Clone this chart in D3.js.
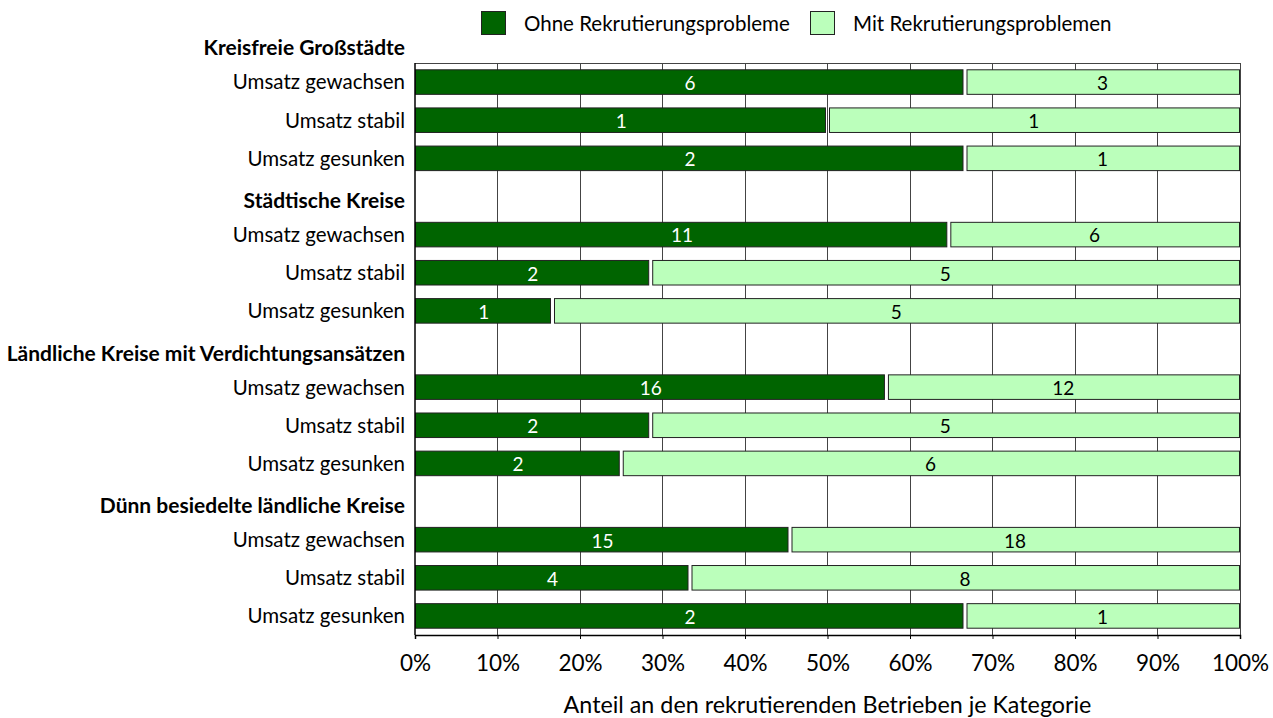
<!DOCTYPE html>
<html><head><meta charset="utf-8">
<script src="https://cdn.jsdelivr.net/npm/d3@7"></script>
<style>body{margin:0;background:#fff}svg{display:block;font-family:Lato,"Open Sans",sans-serif}</style>
</head><body><svg id="c" width="1273" height="718"></svg>
<script>
const groups = ["Kreisfreie Großstädte","Städtische Kreise","Ländliche Kreise mit Verdichtungsansätzen","Dünn besiedelte ländliche Kreise"];
const rowsPerGroup = ["Umsatz gewachsen","Umsatz stabil","Umsatz gesunken"];
const ohne = [6,1,2, 11,2,1, 16,2,2, 15,4,2];
const mit  = [3,1,1, 6,5,5, 12,5,6, 18,8,1];
const seriesNames = ["Ohne Rekrutierungsprobleme","Mit Rekrutierungsproblemen"];
const colors = ["#006400","#bbffbb"];
const xTicks = [0,0.1,0.2,0.3,0.4,0.5,0.6,0.7,0.8,0.9,1];
const xTitle = "Anteil an den rekrutierenden Betrieben je Kategorie";

const rows = [];
let k = 0;
groups.forEach((g,gi)=>{
  rows.push({id:"h"+gi, label:g, header:true});
  rowsPerGroup.forEach((r,ri)=>{
    rows.push({id:"r"+k, label:r, header:false, a:ohne[k], b:mit[k]});
    k++;
  });
});

const svg = d3.select("#c");
const L=415, R=1240, step=572/15, B=635, T0=B-16*step, Ttop=B-15*step;
const x = d3.scaleLinear().domain([0,1]).range([L,R]);
const y = d3.scaleBand().domain(rows.map(d=>d.id)).range([T0,B]).paddingInner(0.33).paddingOuter(0.165);

svg.append("g").selectAll("line").data(xTicks.slice(1)).join("line")
  .attr("x1",d=>x(d)).attr("x2",d=>x(d)).attr("y1",Ttop).attr("y2",B)
  .attr("stroke","#444").attr("stroke-width",1).attr("shape-rendering","crispEdges");
svg.append("line").attr("x1",L).attr("x2",R).attr("y1",Ttop).attr("y2",Ttop)
  .attr("stroke","#444").attr("shape-rendering","crispEdges");

const gap=1.5;
const dataRows = rows.filter(d=>!d.header);
const bars = svg.append("g");
dataRows.forEach(d=>{
  const tot=d.a+d.b, p=d.a/tot;
  const segs=[{x0:0,x1:p,v:d.a,c:colors[0],t:"#fff"},{x0:p,x1:1,v:d.b,c:colors[1],t:"#000"}];
  segs.forEach((s,i)=>{
    const xa = x(s.x0)+(i===1?gap:0), xb = x(s.x1)-(i===0?gap:0);
    bars.append("rect").attr("x",xa+0.5).attr("y",y(d.id)+0.5)
      .attr("width",xb-xa-1).attr("height",y.bandwidth()-1)
      .attr("fill",s.c).attr("stroke","#222").attr("stroke-width",1);
    bars.append("text").attr("x",(x(s.x0)+x(s.x1))/2).attr("y",y(d.id)+y.bandwidth()/2+1)
      .attr("dy","0.36em").attr("text-anchor","middle").attr("font-size",19)
      .attr("fill",s.t).text(s.v);
  });
});

svg.append("line").attr("x1",L).attr("x2",L).attr("y1",Ttop).attr("y2",B).attr("stroke","#000").attr("stroke-width",1.5);
const xa = svg.append("g").attr("transform",`translate(0,${B})`)
  .call(d3.axisBottom(x).tickValues(xTicks).tickFormat(d3.format(".0%")).tickSize(4).tickPadding(16));
xa.select(".domain").attr("stroke","#000").attr("stroke-width",1.5);
xa.selectAll(".tick line").attr("stroke","#000");
xa.selectAll("text").attr("font-size",22.5).attr("font-family","Lato,sans-serif").attr("fill","#000");

svg.append("g").selectAll("text").data(rows).join("text")
  .attr("x",405).attr("y",d=>y(d.id)+y.bandwidth()/2+(d.header?4:0)).attr("dy","0.36em")
  .attr("text-anchor","end").attr("font-size",d=>d.header?21:20.5)
  .attr("font-weight",d=>d.header?"bold":"normal").text(d=>d.label);

svg.append("text").attr("x",(L+R)/2).attr("y",705).attr("dy","0.36em").attr("text-anchor","middle")
  .attr("font-size",23.3).text(xTitle);

const leg=[{x:481,tx:524},{x:810,tx:853}];
seriesNames.forEach((n,i)=>{
  svg.append("rect").attr("x",leg[i].x+0.5).attr("y",11.5).attr("width",24).attr("height",23)
    .attr("fill",colors[i]).attr("stroke","#222");
  svg.append("text").attr("x",leg[i].tx).attr("y",24).attr("dy","0.36em").attr("font-size",20.5).text(n);
});
</script></body></html>
